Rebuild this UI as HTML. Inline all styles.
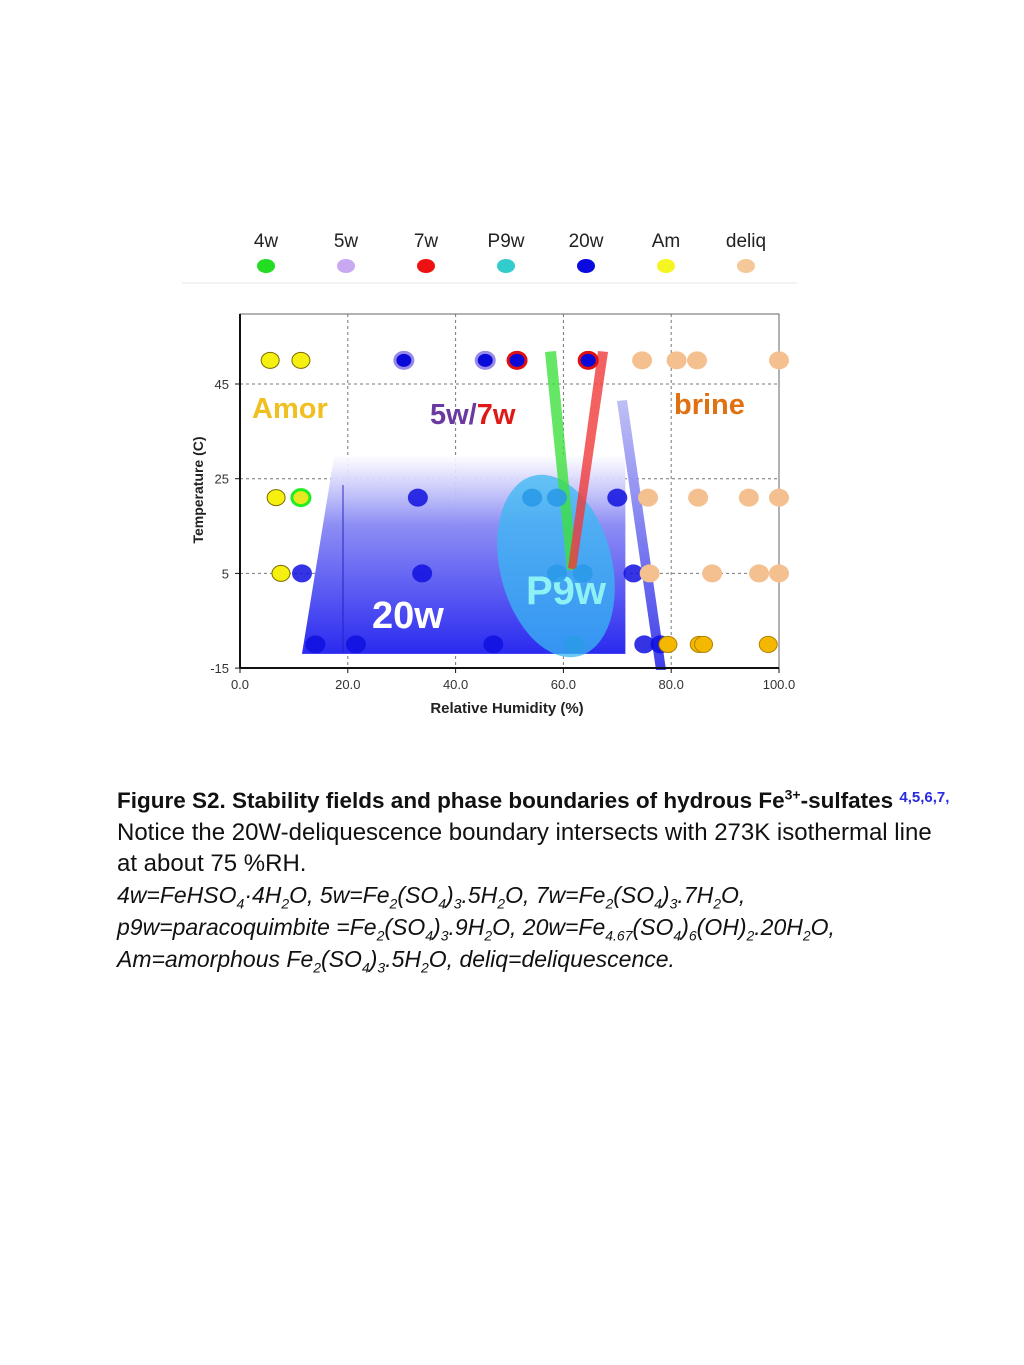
<!DOCTYPE html>
<html><head><meta charset="utf-8"><style>
body{margin:0;background:#fff;width:1024px;height:1365px;position:relative;overflow:hidden;font-family:"Liberation Sans",sans-serif}
.cap{position:absolute;left:117px;top:782px;font-size:24px;line-height:31.7px;color:#111;white-space:nowrap}
.cap b{font-size:22.5px}
.cap i{font-style:italic;font-size:23px}
sub,sup{font-size:14px;line-height:0}
</style></head><body>
<svg width="1024" height="760" style="position:absolute;left:0;top:0" xmlns="http://www.w3.org/2000/svg">
<defs>
<linearGradient id="g20" x1="0" y1="0" x2="0" y2="1"><stop offset="0" stop-color="#fff" stop-opacity="0.9"/><stop offset="0.35" stop-color="#8e8ef5"/><stop offset="1" stop-color="#2a2af0"/></linearGradient>
<linearGradient id="gb" x1="0" y1="0" x2="0" y2="1"><stop offset="0" stop-color="#b8b8f5"/><stop offset="1" stop-color="#2a2ae8"/></linearGradient>
</defs>
<g id="legend" font-size="19" fill="#222" text-anchor="middle"></g>
<line x1="182" y1="283" x2="797" y2="283" stroke="#e6e6e6"/>
<g id="grid"></g>
<g id="fields"></g>
<g id="pts"></g>
<g id="axes"></g>
</svg>
<div class="cap"><b>Figure S2. Stability fields and phase boundaries of hydrous Fe<sup>3+</sup>-sulfates <span style="color:#2a2ae0;font-size:15px;vertical-align:6px">4,5,6,7,</span></b><br>Notice the 20W-deliquescence boundary intersects with 273K isothermal line<br>at about 75 %RH.<br><i>4w=FeHSO<sub>4</sub>·4H<sub>2</sub>O, 5w=Fe<sub>2</sub>(SO<sub>4</sub>)<sub>3</sub>.5H<sub>2</sub>O, 7w=Fe<sub>2</sub>(SO<sub>4</sub>)<sub>3</sub>.7H<sub>2</sub>O,<br>p9w=paracoquimbite =Fe<sub>2</sub>(SO<sub>4</sub>)<sub>3</sub>.9H<sub>2</sub>O, 20w=Fe<sub>4.67</sub>(SO<sub>4</sub>)<sub>6</sub>(OH)<sub>2</sub>.20H<sub>2</sub>O,<br>Am=amorphous Fe<sub>2</sub>(SO<sub>4</sub>)<sub>3</sub>.5H<sub>2</sub>O, deliq=deliquescence.</i></div>
<script>
const legendLabels=["4w","5w","7w","P9w","20w","Am","deliq"];
const legendColors=["#22dd22","#c8a8f0","#ee1111","#33cccc","#0a0ae0","#f5f522","#f5c89a"];
const xTicks=[0,20,40,60,80,100];
const yTicks=[45,25,5,-15];
// points: [RH, T, phase]
const ptX=[5.6,11.3,6.7,11.3,7.6,11.5,33,33.8,30.4,45.5,51.4,64.6,54.2,58.8,58.8,63.6,70,73,14,21.5,47,62,75,78,74.6,81,84.8,100,75.7,85,94.4,100,76,87.6,96.3,100,79.4,85.2,86,98];
const ptY=[50,50,21,21,5,5,21,5,50,50,50,50,21,21,5,5,21,5,-10,-10,-10,-10,-10,-10,50,50,50,50,21,21,21,21,5,5,5,5,-10,-10,-10,-10];
const ptK=["am","am","am","am4","am","20","20","20","5w","5w","7w","7w","p9","p9","p9","p9","20","20","20","20","20","p9","20","20","dq","dq","dq","dq","dq","dq","dq","dq","dq","dq","dq","dq","gd","gd","gd","gd"];
const NS="http://www.w3.org/2000/svg";
const X=v=>240+v*5.39, Y=v=>384+(45-v)*4.735;
function mk(t,a,p){const e=document.createElementNS(NS,t);for(const k in a)e.setAttribute(k,a[k]);(p||document.getElementById('pts')).appendChild(e);return e;}
const lg=document.getElementById('legend');
legendLabels.forEach((l,i)=>{const x=266+i*80;
const t=mk('text',{x:x,y:247},lg);t.textContent=l;


const c=mk('ellipse',{cx:x,cy:266,rx:9,ry:7,fill:legendColors[i]},lg);

});
const g=document.getElementById('grid');
xTicks.slice(1,5).forEach(v=>{const l=mk('line',{x1:X(v),y1:314,x2:X(v),y2:668,stroke:'#777','stroke-dasharray':'3,3','stroke-width':1},g);

});
yTicks.slice(0,3).forEach(v=>{const l=mk('line',{x1:240,y1:Y(v),x2:779,y2:Y(v),stroke:'#777','stroke-dasharray':'3,3','stroke-width':1},g);

});
mk('rect',{x:240,y:314,width:539,height:354,fill:'none',stroke:'#666','stroke-width':1},g);
const f=document.getElementById('fields');
mk('polygon',{points:`${X(11.5)},${Y(-12)} ${X(17.5)},${Y(30)} ${X(71.5)},${Y(30)} ${X(71.5)},${Y(-12)}`,fill:'url(#g20)'},f);
mk('line',{x1:343,y1:485,x2:343,y2:653,stroke:'#2020c0','stroke-width':1.5,opacity:.6},f);
const el=mk('ellipse',{cx:556,cy:566,rx:56,ry:93,fill:'#3ab8f2',opacity:.75,transform:'rotate(-14 556 566)'},f);


const t20=mk('text',{x:372,y:628,fill:'#fff','font-size':38,'font-weight':'bold'},f);t20.textContent='20w';
const tp=mk('text',{x:526,y:604,fill:'#8ef2f5','font-size':40,'font-weight':'bold'},f);tp.textContent='P9w';
mk('polygon',{points:'545,352 556,351 577,570 567,570',fill:'#3ee03e',opacity:.8},f);
mk('polygon',{points:'598,351 608,352 576,570 568,568',fill:'#f03a3a',opacity:.8},f);
mk('polygon',{points:'617,401 627,400 666,670 656,670',fill:'url(#gb)',opacity:.9},f);
const ta=mk('text',{x:252,y:418,fill:'#f0c020','font-size':29,'font-weight':'bold'},f);ta.textContent='Amor';
const t57=mk('text',{x:430,y:424,'font-size':29,'font-weight':'bold'},f);t57.innerHTML='<tspan fill="#6a3aa0">5w/</tspan><tspan fill="#e01818">7w</tspan>';
const tb=mk('text',{x:674,y:414,fill:'#e07010','font-size':29,'font-weight':'bold'},f);tb.textContent='brine';
ptX.forEach((v,i)=>{const k=ptK[i],cx=X(v),cy=Y(ptY[i]);let c;
if(k==='am'){c=mk('ellipse',{cx,cy,rx:9,ry:8,fill:'#f5f010',stroke:'#7a6a00','stroke-width':1});}
else if(k==='am4'){c=mk('ellipse',{cx,cy,rx:9,ry:8,fill:'#e8e820',stroke:'#22ee22','stroke-width':3});}
else if(k==='20'){c=mk('ellipse',{cx,cy,rx:10,ry:9,fill:'#1010e0',opacity:.85});}
else if(k==='5w'){c=mk('ellipse',{cx,cy,rx:9,ry:8,fill:'#0a0ad8',stroke:'#9a8ae8','stroke-width':3});}
else if(k==='7w'){c=mk('ellipse',{cx,cy,rx:9,ry:8,fill:'#0a0ad8',stroke:'#e01010','stroke-width':3});}
else if(k==='p9'){c=mk('ellipse',{cx,cy,rx:10,ry:9,fill:'#2a9ae8',opacity:.9});}
else if(k==='dq'){c=mk('ellipse',{cx,cy,rx:10,ry:9,fill:'#f5c090'});}
else {c=mk('ellipse',{cx,cy,rx:9,ry:8,fill:'#f5b800',stroke:'#b08000','stroke-width':1});}

});
const ax=document.getElementById('axes');
mk('line',{x1:240,y1:314,x2:240,y2:668,stroke:'#111','stroke-width':2},ax);
mk('line',{x1:240,y1:668,x2:779,y2:668,stroke:'#111','stroke-width':2},ax);
xTicks.forEach(v=>{mk('line',{x1:X(v),y1:668,x2:X(v),y2:673,stroke:'#111'},ax);
const t=mk('text',{x:X(v),y:689,'font-size':13,fill:'#333','text-anchor':'middle'},ax);t.textContent=v.toFixed(1);

});
yTicks.forEach(v=>{mk('line',{x1:235,y1:Y(v),x2:240,y2:Y(v),stroke:'#111'},ax);
const t=mk('text',{x:229,y:Y(v)+5,'font-size':13,fill:'#333','text-anchor':'end'},ax);t.textContent=v;

});
const xt=mk('text',{x:507,y:713,'font-size':15,'font-weight':'bold',fill:'#222','text-anchor':'middle'},ax);xt.textContent='Relative Humidity (%)';


const yt=mk('text',{x:0,y:0,'font-size':14,'font-weight':'bold',fill:'#222','text-anchor':'middle',transform:'translate(203 490) rotate(-90)'},ax);yt.textContent='Temperature (C)';


</script>
</body></html>
